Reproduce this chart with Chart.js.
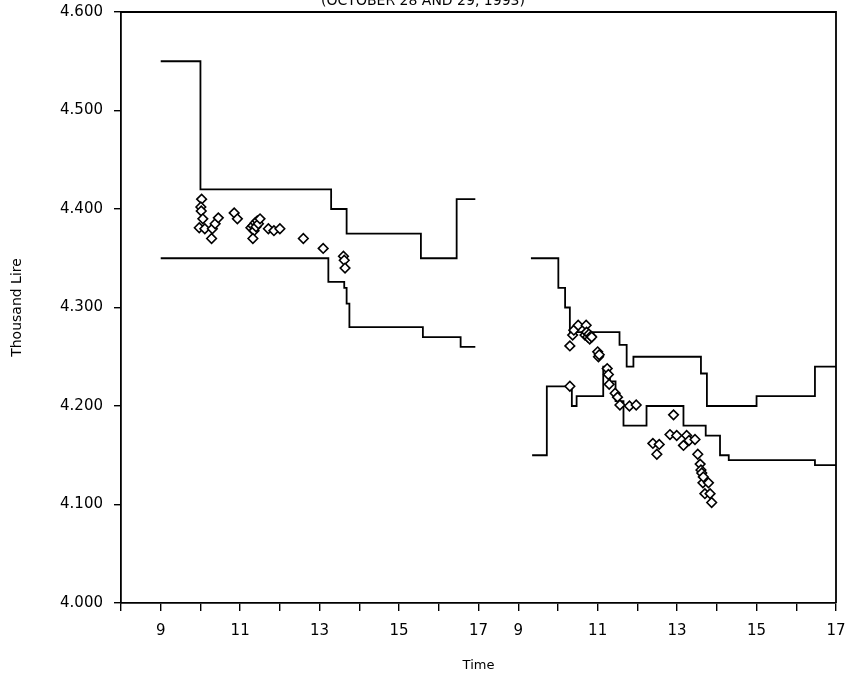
<!DOCTYPE html>
<html>
<head>
<meta charset="utf-8">
<script src="https://cdn.jsdelivr.net/npm/chart.js@4.4.0/dist/chart.umd.min.js"></script>
<style>
  html, body { margin: 0; padding: 0; background: #fff; }
</style>
</head>
<body>
<canvas id="chart" width="847" height="679"></canvas>
<script>
// day 2 hours are drawn after day 1 on the same axis
const DAY2_OFFSET = 9

const day1Hours = [8, 9, 10, 11, 12, 13, 14, 15, 16, 17]
const day2Hours = [9, 10, 11, 12, 13, 14, 15, 16, 17]
const labelledHours = [9, 11, 13, 15, 17]
const priceTicks = [4.0, 4.1, 4.2, 4.3, 4.4, 4.5, 4.6]

// upper and lower bands (step lines), time of change -> new level
const day1UpperTime = [9.0, 10.0, 13.29, 13.68, 15.55, 16.45, 16.92]
const day1UpperPrice = [4.550, 4.420, 4.400, 4.375, 4.350, 4.410, 4.410]
const day1LowerTime = [9.0, 13.22, 13.62, 13.68, 13.75, 15.6, 16.55, 16.92]
const day1LowerPrice = [4.350, 4.326, 4.320, 4.304, 4.280, 4.270, 4.260, 4.260]

const day2UpperTime = [9.32, 10.01, 10.18, 10.30, 11.55, 11.73, 11.90, 13.60, 13.75, 15.0, 16.47, 17.0]
const day2UpperPrice = [4.350, 4.320, 4.300, 4.275, 4.262, 4.240, 4.250, 4.233, 4.200, 4.210, 4.240, 4.240]
const day2LowerTime = [9.35, 9.72, 10.35, 10.47, 11.14, 11.31, 11.45, 11.65, 12.23, 13.16, 13.72, 14.08, 14.3, 16.47, 17.0]
const day2LowerPrice = [4.150, 4.220, 4.200, 4.210, 4.240, 4.225, 4.205, 4.180, 4.200, 4.180, 4.170, 4.150, 4.145, 4.140, 4.140]

// trades (diamonds)
const day1TradeTime = [10.03, 10.01, 10.02, 10.06, 9.97, 10.11, 10.30, 10.28, 10.37, 10.45, 10.85, 10.93,
  11.27, 11.32, 11.35, 11.38, 11.40, 11.43, 11.46, 11.50, 11.32, 11.71, 11.85, 12.0, 12.59, 13.09, 13.60, 13.62, 13.64]
const day1TradePrice = [4.410, 4.402, 4.398, 4.390, 4.381, 4.380, 4.380, 4.370, 4.385, 4.391, 4.396, 4.390,
  4.381, 4.383, 4.378, 4.386, 4.382, 4.388, 4.385, 4.390, 4.370, 4.380, 4.378, 4.380, 4.370, 4.360, 4.352, 4.348, 4.340]

const day2TradeTime = [10.30, 10.30, 10.37, 10.40, 10.51, 10.71, 10.68, 10.72, 10.75, 10.78, 10.80, 10.83, 10.85,
  11.00, 11.02, 11.04, 11.24, 11.27, 11.29, 11.44, 11.50, 11.56, 11.80, 11.97,
  12.39, 12.49, 12.55, 12.82, 12.91, 12.99, 13.16, 13.24, 13.30, 13.45,
  13.52, 13.58, 13.60, 13.62, 13.65, 13.66, 13.70, 13.79, 13.83, 13.87]
const day2TradePrice = [4.220, 4.261, 4.272, 4.277, 4.282, 4.282, 4.272, 4.275, 4.270, 4.273, 4.268, 4.271, 4.270,
  4.255, 4.250, 4.252, 4.238, 4.232, 4.222, 4.213, 4.209, 4.201, 4.200, 4.201,
  4.162, 4.151, 4.161, 4.171, 4.191, 4.170, 4.160, 4.170, 4.165, 4.166,
  4.151, 4.141, 4.135, 4.132, 4.122, 4.128, 4.111, 4.122, 4.111, 4.102]

const points = (times, prices, offset) => times.map((t, i) => ({ x: t + offset, y: prices[i] }))

const stepLine = (times, prices, offset) => ({
  data: points(times, prices, offset),
  showLine: true,
  stepped: true,
  borderColor: '#000',
  borderWidth: 1.8,
  pointRadius: 0,
  order: 1
})

const trades = (times, prices, offset) => ({
  data: points(times, prices, offset),
  showLine: false,
  pointStyle: 'rectRot',
  pointRadius: 4.8,
  borderWidth: 1.6,
  borderColor: '#000',
  backgroundColor: '#fff',
  order: 0
})

const axisTicks = day1Hours.concat(day2Hours.map(h => h + DAY2_OFFSET))
const tickLabel = v => {
  const h = v > 17 ? v - DAY2_OFFSET : v
  return labelledHours.includes(h) ? String(h) : ''
}

// frame + clipped title
const framePlugin = {
  id: 'frame',
  afterDraw(chart) {
    const { ctx, chartArea: a } = chart
    ctx.save()
    ctx.strokeStyle = '#000'
    ctx.lineWidth = 1.8
    ctx.beginPath()
    ctx.moveTo(a.left, a.top)
    ctx.lineTo(a.right, a.top)
    ctx.lineTo(a.right, a.bottom)
    ctx.stroke()
    ctx.fillStyle = '#000'
    ctx.font = '14px "DejaVu Sans"'
    ctx.textAlign = 'center'
    ctx.textBaseline = 'alphabetic'
    ctx.fillText('(OCTOBER 28 AND 29, 1993)', 423, 5)
    ctx.restore()
  }
}

Chart.defaults.font.family = '"DejaVu Sans", sans-serif'
Chart.defaults.color = '#000'

new Chart(document.getElementById('chart'), {
  type: 'scatter',
  data: {
    datasets: [
      stepLine(day1UpperTime, day1UpperPrice, 0),
      stepLine(day1LowerTime, day1LowerPrice, 0),
      stepLine(day2UpperTime, day2UpperPrice, DAY2_OFFSET),
      stepLine(day2LowerTime, day2LowerPrice, DAY2_OFFSET),
      trades(day1TradeTime, day1TradePrice, 0),
      trades(day2TradeTime, day2TradePrice, DAY2_OFFSET)
    ]
  },
  options: {
    responsive: false,
    animation: false,
    layout: { padding: { top: 12, right: 11, left: 0, bottom: 0 } },
    plugins: { legend: { display: false }, tooltip: { enabled: false } },
    scales: {
      x: {
        type: 'linear',
        min: 8,
        max: 26,
        afterBuildTicks: s => { s.ticks = axisTicks.map(v => ({ value: v })) },
        afterFit: s => { s.height = 76; s.paddingRight = 0; s.paddingLeft = 0 },
        ticks: { callback: tickLabel, font: { size: 15 }, padding: 11, maxRotation: 0, autoSkip: false },
        grid: { drawOnChartArea: false, tickLength: 8, color: '#000', lineWidth: 1.4 },
        border: { color: '#000', width: 1.8 },
        title: { display: true, text: 'Time', font: { size: 13 }, padding: { top: 0, bottom: 6 } }
      },
      y: {
        min: 4.0,
        max: 4.6,
        afterBuildTicks: s => { s.ticks = priceTicks.map(v => ({ value: v })) },
        afterFit: s => { s.width = 121; s.paddingTop = 0; s.paddingBottom = 0 },
        ticks: { callback: v => v.toFixed(3), font: { size: 15 }, padding: 11 },
        grid: { drawOnChartArea: false, tickLength: 7, color: '#000', lineWidth: 1.4 },
        border: { color: '#000', width: 1.8 },
        title: { display: true, text: 'Thousand Lire', font: { size: 14 }, padding: { top: 9, bottom: 0 } }
      }
    }
  },
  plugins: [framePlugin]
})
</script>
</body>
</html>
